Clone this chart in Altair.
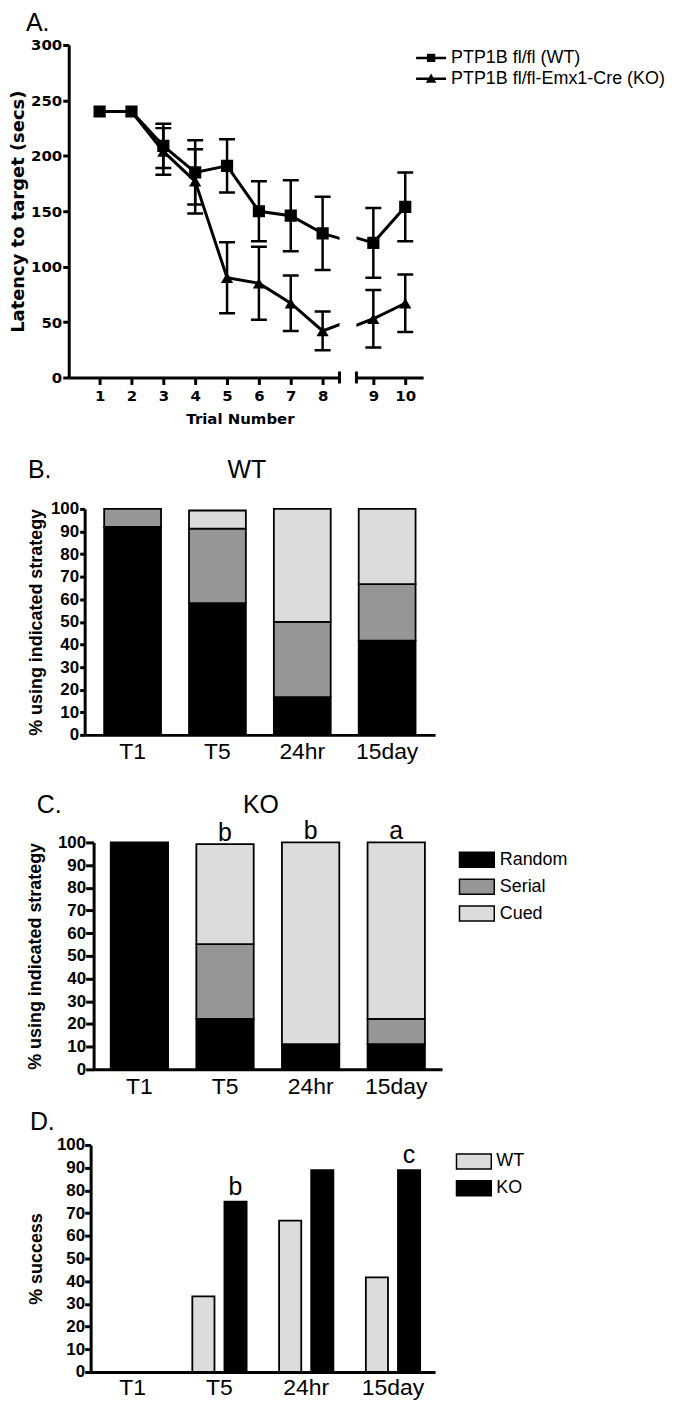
import altair as alt
import pandas as pd

# ---------------- Panel A data ----------------
trials = [1, 2, 3, 4, 5, 6, 7, 8, 9, 10]
wt_latency = [240, 240, 209, 185, 191, 150, 146, 130, 121.5, 154]
wt_sem = [0, 0, 20, 29, 24, 27, 32, 33, 31.5, 31]
ko_latency = [240, 240, 204, 177, 90, 85, 67, 42, 53, 67]
ko_sem = [0, 0, 21, 29, 32, 33, 25, 17.5, 26, 26]
a_groups = ["PTP1B fl/fl (WT)", "PTP1B fl/fl-Emx1-Cre (KO)"]
a_shapes = ["square", "triangle-up"]

# ---------------- Panels B / C data ----------------
periods = ["T1", "T5", "24hr", "15day"]
strategies = ["Random", "Serial", "Cued"]
wt_random = [92, 58.3, 16.7, 41.7]
wt_serial = [8, 33, 33.3, 25]
wt_cued = [0, 8, 50, 33.3]
ko_random = [100, 22.2, 11.1, 11.1]
ko_serial = [0, 33, 0, 11.1]
ko_cued = [0, 44, 88.9, 77.8]
ko_marks_period = ["T5", "24hr", "15day"]
ko_marks_text = ["b", "b", "a"]

# ---------------- Panel D data ----------------
genotypes = ["WT", "KO"]
success_wt = [0, 33.3, 66.7, 41.7]
success_ko = [0, 75, 88.9, 88.9]
d_marks_period = ["T5", "15day"]
d_marks_text = ["b", "c"]

SANS = "Liberation Sans"
DV = "DejaVu Sans"

# ---------------- tables ----------------
rowsA = []
for g, means, sems in [(a_groups[0], wt_latency, wt_sem), (a_groups[1], ko_latency, ko_sem)]:
    for t, m, e in zip(trials, means, sems):
        rowsA.append({"group": g, "trial": t, "mean": m, "lo": m - e, "hi": m + e, "sem": e})
dfA = pd.DataFrame(rowsA)


def strat_df(r, s, c):
    rows = []
    for i, p in enumerate(periods):
        for k, (st, arr) in enumerate(zip(strategies, [r, s, c])):
            rows.append({"period": p, "strategy": st, "pct": arr[i], "ord": k})
    return pd.DataFrame(rows)


dfB = strat_df(wt_random, wt_serial, wt_cued)
dfC = strat_df(ko_random, ko_serial, ko_cued)
ko_tot = [a + b + c for a, b, c in zip(ko_random, ko_serial, ko_cued)]
dfCm = pd.DataFrame({"period": ko_marks_period, "txt": ko_marks_text,
                     "pct": [ko_tot[periods.index(p)] for p in ko_marks_period]})
dfD = pd.DataFrame([{"period": p, "genotype": g, "pct": v}
                    for g, arr in zip(genotypes, [success_wt, success_ko])
                    for p, v in zip(periods, arr)])
dfDm = pd.DataFrame({"period": d_marks_period, "genotype": ["KO"] * len(d_marks_period),
                     "txt": d_marks_text,
                     "pct": [success_ko[periods.index(p)] for p in d_marks_period]})

one = pd.DataFrame({"t": [""]})


def spacer(x):
    # invisible extent marker: fixes how far a panel reaches to the left of its plot
    return alt.Chart(one).mark_rule(opacity=0).encode(
        x=alt.value(x), y=alt.value(0), y2=alt.value(1))


def gap(w):
    # empty narrow view used to indent a panel
    return alt.Chart(one).mark_rule(opacity=0).encode(
        x=alt.value(0), y=alt.value(0), y2=alt.value(1)).properties(width=w, height=1)


def label(txt, x, y, size=25, align="left"):
    return alt.Chart(pd.DataFrame({"t": [txt]})).mark_text(
        font=SANS, fontSize=size, align=align, baseline="alphabetic", color="black"
    ).encode(text="t:N", x=alt.value(x), y=alt.value(y))


# ---------------- Panel A ----------------
A_WL, A_WR, A_H = 272, 67, 334
yscaleA = alt.Scale(domain=[0, 300], nice=False)
yaxisA = alt.Axis(values=list(range(0, 301, 50)), title="Latency to target (secs)", grid=False,
                  domainColor="black", domainWidth=3, tickColor="black", tickWidth=3, tickSize=6,
                  labelFont=DV, labelFontWeight="bold", labelFontSize=15, labelColor="black",
                  labelPadding=1, labelOverlap=False,
                  titleFont=DV, titleFontWeight="bold", titleFontSize=18, titleColor="black",
                  titlePadding=3)


def a_xaxis(vals, title=None, titleX=0):
    kw = dict(values=vals, grid=False, domainColor="black", domainWidth=3, tickColor="black",
              tickWidth=3, tickSize=7, labelFont=DV, labelFontWeight="bold", labelFontSize=15,
              labelColor="black", labelPadding=4, labelFlush=False)
    if title:
        kw.update(title=title, titleFont=DV, titleFontWeight="bold", titleFontSize=15,
                  titleColor="black", titlePadding=8, titleX=titleX)
    else:
        kw.update(title=None)
    return alt.Axis(**kw)


# legend glyphs: short line with the marker on it
SQ = "M-2.15,-0.18H2.15V0.18H-2.15ZM-0.6,-0.6H0.6V0.6H-0.6Z"
TRI = "M-2.15,-0.18H2.15V0.18H-2.15ZM0,-0.75L0.75,0.55H-0.75Z"


def a_legend(path, ly):
    return alt.Legend(title=None, orient="none", legendX=66, legendY=ly, symbolType=path,
                      symbolSize=196, labelFont=SANS, labelFontSize=18, labelColor="black",
                      labelOffset=11, labelLimit=400, padding=0)


def a_panel(domain, xaxis, yaxis, legends):
    xs = alt.X("trial:Q", scale=alt.Scale(domain=domain, nice=False, zero=False), axis=xaxis)
    base = alt.Chart(dfA)
    line = base.mark_line(color="black", strokeWidth=3, clip=True).encode(
        x=xs, y=alt.Y("mean:Q", scale=yscaleA, axis=yaxis), detail="group:N")
    err = base.transform_filter("datum.sem > 0")
    rules = err.mark_rule(color="black", strokeWidth=2.5, clip=True).encode(
        x=xs, y=alt.Y("lo:Q", scale=yscaleA, axis=yaxis), y2="hi:Q")
    cap_lo = err.mark_tick(color="black", orient="horizontal", size=16, thickness=2.5,
                           clip=True, opacity=1).encode(
        x=xs, y=alt.Y("lo:Q", scale=yscaleA, axis=yaxis))
    cap_hi = err.mark_tick(color="black", orient="horizontal", size=16, thickness=2.5,
                           clip=True, opacity=1).encode(
        x=xs, y=alt.Y("hi:Q", scale=yscaleA, axis=yaxis))
    layers = [line, rules, cap_lo, cap_hi]
    for g, shp, leg in zip(a_groups, a_shapes, legends):
        layers.append(
            base.transform_filter(alt.datum.group == g).mark_point(
                shape=shp, filled=True, opacity=1, size=150, clip=True).encode(
                x=xs, y=alt.Y("mean:Q", scale=yscaleA, axis=yaxis),
                color=alt.Color("group:N", scale=alt.Scale(domain=[g], range=["#000000"]),
                                legend=leg)))
    return layers


brkL = alt.Chart(one).mark_rule(color="black", strokeWidth=3).encode(
    x=alt.value(A_WL), y=alt.value(A_H - 6), y2=alt.value(A_H + 6))
brkR = alt.Chart(one).mark_rule(color="black", strokeWidth=3).encode(
    x=alt.value(0), y=alt.value(A_H - 6), y2=alt.value(A_H + 6))

leftA = alt.layer(
    *a_panel([0.03, 8.53], a_xaxis(list(range(1, 9)), "Trial Number", 172), yaxisA,
             [None, None]),
    brkL, spacer(-60), label("A.", -43, -14)
).properties(width=A_WL, height=A_H).resolve_scale(color="independent")

rightA = alt.layer(
    *a_panel([8.47, 10.56], a_xaxis([9, 10]), None,
             [a_legend(SQ, 4), a_legend(TRI, 25)]),
    brkR
).properties(width=A_WR, height=A_H).resolve_scale(color="independent")


def ind(c):
    return c.resolve_scale(color="independent", shape="independent",
                           x="independent", y="independent")


hA = ind(alt.hconcat(leftA, rightA, spacing=13))

# ---------------- shared B/C/D axes ----------------
RECT = "M-2.33,-1H2.33V1H-2.33Z"


def pct_axis(title, tick, pad, tp):
    return alt.Axis(values=list(range(0, 101, 10)), title=title, grid=False,
                    domainColor="black", domainWidth=3, tickColor="black", tickWidth=3,
                    tickSize=tick, labelPadding=pad, labelFont=SANS, labelFontWeight="bold",
                    labelFontSize=17, labelColor="black", labelOverlap=False,
                    titleFont=SANS, titleFontWeight="bold", titleFontSize=18,
                    titleColor="black", titlePadding=tp)


def band_axis(pad):
    return alt.Axis(title=None, labelAngle=0, ticks=False, tickSize=0, domainColor="black",
                    domainWidth=3, labelFont=SANS, labelFontSize=23, labelColor="black",
                    labelPadding=pad)


def rect_legend(lx, ly, loff):
    return alt.Legend(title=None, orient="none", legendX=lx, legendY=ly, symbolType=RECT,
                      symbolSize=225, symbolStrokeColor="black", symbolStrokeWidth=1.5,
                      labelFont=SANS, labelFontSize=18, labelColor="black", labelOffset=loff,
                      rowPadding=5, padding=0)


yscaleP = alt.Scale(domain=[0, 100], nice=False)
strat_colors = alt.Scale(domain=strategies, range=["#000000", "#969696", "#dcdcdc"])

# ---------------- Panel B ----------------
xB = alt.X("period:N", sort=periods,
           scale=alt.Scale(domain=periods, paddingInner=0.33, paddingOuter=0.23),
           axis=band_axis(6))
yB_axis = pct_axis("% using indicated strategy", 5, 1, 5)
barsB = alt.Chart(dfB).transform_filter("datum.pct > 0").mark_bar(
    stroke="black", strokeWidth=1.8).encode(
    x=xB, y=alt.Y("pct:Q", stack="zero", scale=yscaleP, axis=yB_axis),
    color=alt.Color("strategy:N", scale=strat_colors, legend=None),
    order=alt.Order("ord:Q"))
chartB = alt.layer(barsB, spacer(-60), label("B.", -57, -31),
                   label("WT", 163, -31, align="center")).properties(width=352, height=227)

# ---------------- Panel C ----------------
xC = alt.X("period:N", sort=periods,
           scale=alt.Scale(domain=periods, paddingInner=0.33, paddingOuter=0.2),
           axis=band_axis(6))
yC_axis = pct_axis("% using indicated strategy", 8, 0, 13)
barsC = alt.Chart(dfC).transform_filter("datum.pct > 0").mark_bar(
    stroke="black", strokeWidth=1.8).encode(
    x=xC, y=alt.Y("pct:Q", stack="zero", scale=yscaleP, axis=yC_axis),
    color=alt.Color("strategy:N", scale=strat_colors, legend=rect_legend(376, 8.5, 14)),
    order=alt.Order("ord:Q"))
marksC = alt.Chart(dfCm).mark_text(font=SANS, fontSize=25, baseline="alphabetic", dy=-3,
                                   color="black").encode(
    x=xC, y=alt.Y("pct:Q", scale=yscaleP, axis=yC_axis), text="txt:N")
chartC = alt.layer(barsC, marksC, spacer(-64), label("C.", -57, -30),
                   label("KO", 168, -30, align="center")).properties(width=350, height=228)

# ---------------- Panel D ----------------
xD = alt.X("period:N", sort=periods,
           scale=alt.Scale(domain=periods, paddingInner=0.33, paddingOuter=0.15),
           axis=band_axis(5))
xoD = alt.XOffset("genotype:N", sort=genotypes,
                  scale=alt.Scale(domain=genotypes, paddingInner=0.31, paddingOuter=0.06))
yD_axis = pct_axis("% success", 6, 0, 11)
barsD = alt.Chart(dfD).mark_bar(stroke="black", strokeWidth=1.8).encode(
    x=xD, xOffset=xoD, y=alt.Y("pct:Q", scale=yscaleP, axis=yD_axis),
    color=alt.Color("genotype:N", scale=alt.Scale(domain=genotypes,
                                                  range=["#dcdcdc", "#000000"]),
                    legend=rect_legend(376, 7.5, 13.5)))
marksD = alt.Chart(dfDm).mark_text(font=SANS, fontSize=25, baseline="alphabetic", dy=-7,
                                   color="black").encode(
    x=xD, xOffset=xoD, y=alt.Y("pct:Q", scale=yscaleP, axis=yD_axis), text="txt:N")
chartD = alt.layer(barsD, marksD, spacer(-64), label("D.", -61, -15)
                   ).properties(width=346, height=228)

# indent each panel so that the plots start where the reference's do
wA = ind(alt.hconcat(gap(1), hA, spacing=0))
wB = ind(alt.hconcat(gap(17), chartB, spacing=0))
wC = ind(alt.hconcat(gap(18), chartC, spacing=0))
wD = ind(alt.hconcat(gap(19), chartD, spacing=0))

v1 = ind(alt.vconcat(wA, wB, spacing=32))
v2 = ind(alt.vconcat(v1, wC, spacing=29))
chart = ind(alt.vconcat(v2, wD, spacing=12)).properties(
    padding={"left": 0, "top": 0, "right": 5, "bottom": 5}
).configure_view(stroke=None)

chart.save("out.html", embed_options={"renderer": "svg", "actions": False})
